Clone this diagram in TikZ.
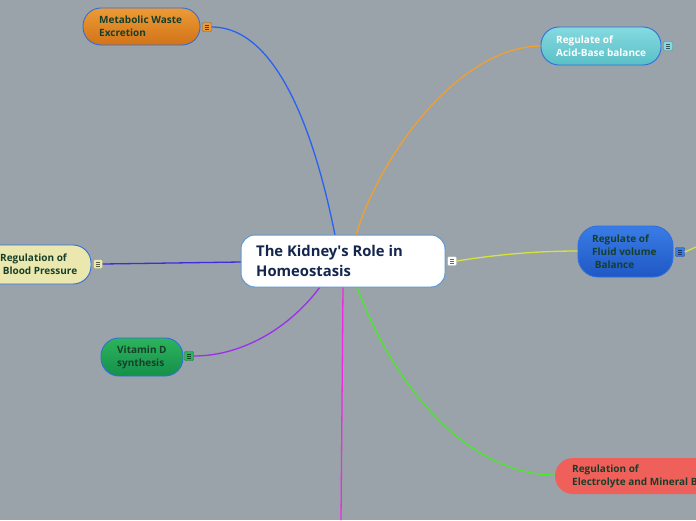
\documentclass[tikz,border=0pt]{standalone}
\usepackage{fontspec}
\setmainfont{Open Sans}
\begin{document}
\begin{tikzpicture}[x=1pt,y=-1pt,
  topic/.style={draw=borderblue, line width=0.9pt},
  lbl/.style={anchor=west, align=left, inner sep=0pt, font=\bfseries\fontsize{10}{13}\selectfont, text=txtgreen},
  conn/.style={line width=1.3pt},
  noteicon/.style={minimum size=9pt, inner sep=0pt, rounded corners=1pt, draw=#1!65!black, fill=#1,
    path picture={\draw[#1!40!black, line width=0.6pt] ([xshift=2.5pt,yshift=-2.7pt]path picture bounding box.north west) -- ++(4pt,0) ([xshift=2.5pt,yshift=-4.5pt]path picture bounding box.north west) -- ++(4pt,0) ([xshift=2.5pt,yshift=-6.3pt]path picture bounding box.north west) -- ++(4pt,0);}}
]
\definecolor{bg}{HTML}{9AA2AA}
\definecolor{borderblue}{HTML}{2E6FE0}
\definecolor{txtgreen}{HTML}{173F2A}
\definecolor{navy}{HTML}{14264E}
\definecolor{corange}{HTML}{EC9A36}
\definecolor{corangedk}{HTML}{D27418}
\definecolor{cteal}{HTML}{84DAE0}
\definecolor{ctealdk}{HTML}{5BBFC6}
\definecolor{cyellow}{HTML}{EAE8AE}
\definecolor{cblue}{HTML}{3A7CE6}
\definecolor{cbluedk}{HTML}{1F58C4}
\definecolor{cgreen}{HTML}{2CB45C}
\definecolor{cgreendk}{HTML}{15904A}
\definecolor{cred}{HTML}{F0605A}
\definecolor{centerborder}{HTML}{5A9BD5}
\definecolor{lnblue}{HTML}{2962F0}
\definecolor{lnorange}{HTML}{F0A030}
\definecolor{lnyellow}{HTML}{D6E43A}
\definecolor{lnindigo}{HTML}{3A2FD8}
\definecolor{lnpurple}{HTML}{9A30E8}
\definecolor{lnmagenta}{HTML}{F02AE0}
\definecolor{lngreen}{HTML}{4CE82A}
\useasboundingbox (0,0) rectangle (696,520);
\clip (0,0) rectangle (696,520);
\fill[bg] (0,0) rectangle (696,520);

% connector anchors on the central topic
\coordinate (bt) at (335,235);
\coordinate (ot) at (356,235);
\coordinate (pb) at (320,287);
\coordinate (mb) at (343,287);
\coordinate (gb) at (357,287);
\coordinate (cl) at (241,262);
\coordinate (mend) at (341,520);
\coordinate (yend) at (696,247);

% note icons (connector targets)
\node[noteicon=corange] (iMW) at (207,27) {};
\node[noteicon=cteal] (iAB) at (668,46) {};
\node[noteicon=white] (iC) at (452,261) {};
\node[noteicon=cyellow] (iBP) at (98,264) {};
\node[noteicon=cblue] (iFV) at (680,252) {};
\node[noteicon=cgreen] (iVD) at (189,356) {};

% connectors
\draw[conn, lnblue] (bt) .. controls (318,150) and (282,27) .. (iMW.east);
\draw[conn, lnorange] (ot) .. controls (382,150) and (462,46) .. (541,46);
\draw[conn, lnyellow] (iC.east) .. controls (500,254) and (540,251) .. (578,251);
\draw[conn, lnyellow] (iFV.east) -- (yend);
\draw[conn, lnindigo] (cl) -- (iBP.east);
\draw[conn, lnpurple] (pb) .. controls (292,325) and (245,356) .. (iVD.east);
\draw[conn, lngreen] (gb) .. controls (395,390) and (470,475) .. (555,475);
\draw[conn, lnmagenta] (mb) -- (mend);

% topics
\draw[topic, top color=corange, bottom color=corangedk, rounded corners=18pt] (83,8) rectangle (200,45);
\node[lbl] (tMW) at (99,26.5) {Metabolic Waste\\Excretion};

\draw[topic, top color=cteal, bottom color=ctealdk, rounded corners=18pt] (541,27) rectangle (661,65);
\node[lbl, text=white] (tAB) at (556,46) {Regulate of\\Acid-Base balance};

\draw[topic, fill=cyellow, rounded corners=18pt] (-30,245) rectangle (91,284);
\node[lbl] (tBP) at (0,264.5) {Regulation of\\\ Blood Pressure};

\draw[topic, top color=cblue, bottom color=cbluedk, rounded corners=20pt] (578,226) rectangle (673,277);
\node[lbl] (tFV) at (592,251.5) {Regulate of\\Fluid volume\\\ Balance};

\draw[topic, top color=cgreen, bottom color=cgreendk, rounded corners=18pt] (101,338) rectangle (183,376);
\node[lbl] (tVD) at (117,357) {Vitamin D\\synthesis};

\fill[cred, rounded corners=18pt] (555,458) rectangle (760,494);
\node[lbl] (tEM) at (572,476) {Regulation of\\Electrolyte and Mineral Balance};

% central topic
\draw[draw=centerborder, line width=1pt, fill=white, rounded corners=14pt] (241,235) rectangle (445,287);
\node[anchor=west, align=left, inner sep=0pt, font=\bfseries\fontsize{14.8}{20}\selectfont, text=navy] (tC) at (256,261) {The Kidney\textquotesingle s Role in\\Homeostasis};
\end{tikzpicture}
\end{document}
